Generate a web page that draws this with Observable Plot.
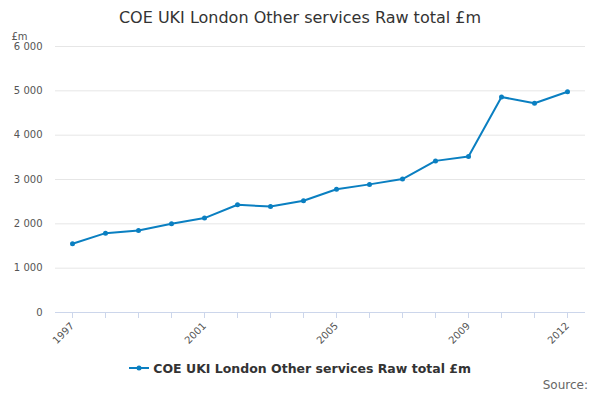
<!DOCTYPE html>
<html><head><meta charset="utf-8">
<script src="https://cdn.jsdelivr.net/npm/d3@7"></script>
<script src="https://cdn.jsdelivr.net/npm/@observablehq/plot@0.6"></script>
<style>
body{margin:0;font-family:"DejaVu Sans",sans-serif;background:#fff;width:600px;}
#title{height:24px;line-height:36px;text-align:center;font-size:16px;color:#333;}
#legend{text-align:center;font-size:12.5px;font-weight:bold;color:#333;margin-top:6px;}
#src{text-align:right;font-size:12px;color:#666;padding-right:12px;margin-top:2px;}
</style></head><body>
<div id="title">COE UKI London Other services Raw total £m</div>
<div id="chart"></div>
<div id="legend"><svg width="20" height="10"><line x1="0" y1="5" x2="20" y2="5" stroke="#0a7fc1" stroke-width="2"/><circle cx="10" cy="5" r="2.5" fill="#0a7fc1"/></svg> COE UKI London Other services Raw total £m</div>
<div id="src">Source:</div>
<script>
const years=[1997,1998,1999,2000,2001,2002,2003,2004,2005,2006,2007,2008,2009,2010,2011,2012];
const values=[1550,1790,1850,2000,2130,2430,2390,2520,2780,2890,3010,3420,3520,4860,4720,4980];
const labelYears=[1997,2001,2005,2009,2012];
const yTicks=[0,1000,2000,3000,4000,5000,6000];
const data=years.map((y,i)=>({year:y,value:values[i]}));
const fmt=v=>v===0?"0":d3.format(",")(v).replace(/,/g," ");
const c="#0a7fc1";
const p=Plot.plot({
  width:600,height:331,marginTop:22,marginBottom:43,marginLeft:55,marginRight:15,
  insetLeft:17,insetRight:18,
  style:{fontFamily:"DejaVu Sans, sans-serif",fontSize:"10px",color:"#555"},
  x:{domain:[1997,2012]},
  y:{domain:[0,6000]},
  marks:[
    Plot.gridY(yTicks,{stroke:"#e6e6e6",strokeOpacity:1}),
    Plot.axisY(yTicks,{tickSize:0,tickFormat:fmt,label:null,tickPadding:13}),
    Plot.text(["£m"],{frameAnchor:"top-left",dx:-44,dy:-14,fill:"#555"}),
    Plot.ruleY([0],{stroke:"#ccd6eb"}),
    Plot.axisX(years,{tickSize:6,stroke:"#ccd6eb",tickFormat:d=>labelYears.includes(d)?String(d):"",tickRotate:-45,label:null,fill:"#555"}),
    Plot.line(data,{x:"year",y:"value",stroke:c,strokeWidth:2}),
    Plot.dot(data,{x:"year",y:"value",fill:c,r:2.5})
  ]
});
document.getElementById("chart").appendChild(p);
</script></body></html>
